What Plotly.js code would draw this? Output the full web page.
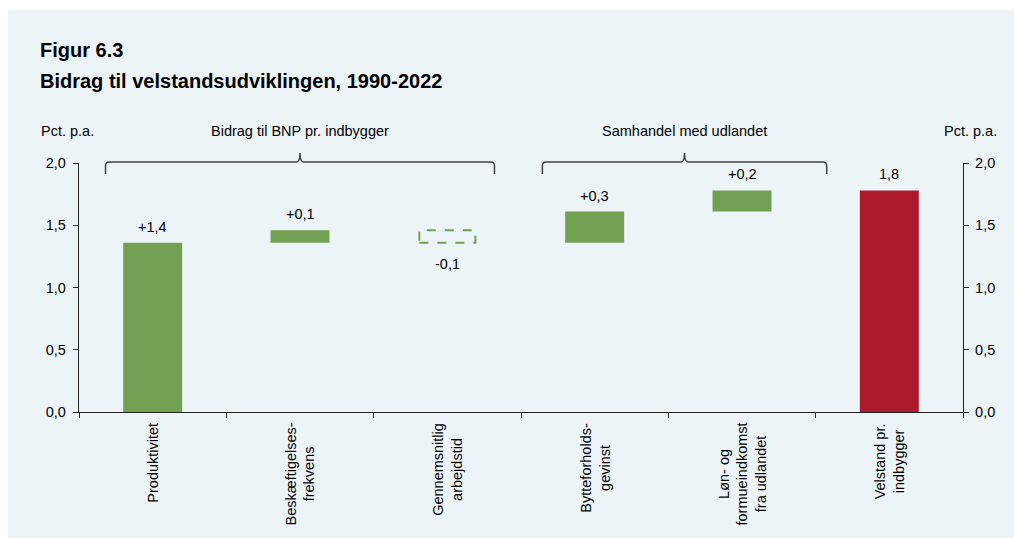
<!DOCTYPE html>
<html>
<head>
<meta charset="utf-8">
<script src="https://cdn.plot.ly/plotly-3.0.1.min.js"></script>
<style>
  html, body { margin: 0; padding: 0; background: #ffffff; overflow: hidden; }
  #chart { position: absolute; left: 8px; top: 10px; width: 1006px; height: 528px; }
</style>
</head>
<body>
<div id="chart"></div>
<script>
// ---- data ----
const categories = [
  "Produktivitet",
  "Beskæftigelses-<br>frekvens",
  "Gennemsnitlig<br>arbejdstid",
  "Bytteforholds-<br>gevinst",
  "Løn- og<br>formueindkomst<br>fra udlandet",
  "Velstand pr.<br>indbygger"
];
const contributions = [1.36, 0.10, -0.10, 0.25, 0.17];
const total = 1.78;
const valueLabels = ["+1,4", "+0,1", "-0,1", "+0,3", "+0,2", "1,8"];
const groupLabels = ["Bidrag til BNP pr. indbygger", "Samhandel med udlandet"];
const titleLines = ["Figur 6.3", "Bidrag til velstandsudviklingen, 1990-2022"];
const unitLabel = "Pct. p.a.";

// ---- styling ----
const GREEN = "#71A052";
const RED = "#AD1A2E";
const BG = "#EDF4F8";
const AXIS = "#222222";
const FONT = "Liberation Sans, Arial, sans-serif";
const FS = 14.5;

// ---- derived waterfall geometry ----
const bases = [], heights = [], colors = [];
let cum = 0;
contributions.forEach(v => {
  bases.push(cum);
  heights.push(v);
  colors.push(v < 0 ? "rgba(0,0,0,0)" : GREEN);
  cum += v;
});
bases.push(0);
heights.push(total);
colors.push(RED);

const BAR_W = 0.4;
const barTrace = {
  type: "bar",
  x: categories,
  y: heights,
  base: bases,
  width: BAR_W,
  marker: { color: colors, line: { width: 0 } },
  hoverinfo: "skip",
  showlegend: false
};
const dummyRight = {
  type: "scatter",
  x: categories,
  y: bases.map((b, i) => b + heights[i]),
  yaxis: "y2",
  mode: "none",
  hoverinfo: "skip",
  showlegend: false
};

const shapes = [];
const annotations = [];

// dashed outlines for negative contributions
heights.forEach((h, i) => {
  if (h < 0) {
    shapes.push({
      type: "rect", xref: "x", yref: "y",
      x0: i - BAR_W / 2 + 0.01, x1: i + BAR_W / 2 - 0.01,
      y0: bases[i] + h, y1: bases[i],
      line: { color: GREEN, width: 2, dash: "dash" },
      fillcolor: "rgba(0,0,0,0)"
    });
  }
});

// value labels
heights.forEach((h, i) => {
  const neg = h < 0;
  annotations.push({
    xref: "x", yref: "y",
    x: i,
    y: bases[i] + h,
    text: valueLabels[i],
    showarrow: false,
    yanchor: neg ? "top" : "bottom",
    yshift: neg ? -11 : 6,
    font: { family: FONT, size: FS, color: "#000" }
  });
});

// category labels (rotated, centred lines)
categories.forEach((c, i) => {
  annotations.push({
    xref: "x", yref: "paper",
    x: i, y: 0,
    text: c,
    textangle: -90,
    align: "center",
    showarrow: false,
    xanchor: "center", yanchor: "top",
    yshift: -9,
    font: { family: FONT, size: FS, color: "#000" }
  });
});

// braces (paper coordinates)
const nCat = categories.length;
const catToPaper = c => (c + 0.5) / nCat;
function bracePath(xc, hw) {
  const yLine = 1.004, yEnd = 0.956, yTop = 1.040, r = 0.004, rv = 0.016;
  const x0 = xc - hw, x1 = xc + hw;
  return `M ${x0},${yEnd} L ${x0},${yLine - rv} Q ${x0},${yLine} ${x0 + r},${yLine} ` +
         `L ${xc - r},${yLine} Q ${xc},${yLine} ${xc},${yTop} ` +
         `Q ${xc},${yLine} ${xc + r},${yLine} L ${x1 - r},${yLine} ` +
         `Q ${x1},${yLine} ${x1},${yLine - rv} L ${x1},${yEnd}`;
}
const braces = [
  { c: 1.0, hw: 1.32, label: groupLabels[0] },
  { c: 3.61, hw: 0.965, label: groupLabels[1] }
];
braces.forEach(b => {
  const xc = catToPaper(b.c);
  const hw = b.hw / nCat;
  shapes.push({
    type: "path", xref: "paper", yref: "paper",
    path: bracePath(xc, hw),
    line: { color: "#404040", width: 1.5 }
  });
  annotations.push({
    xref: "paper", yref: "paper", x: xc, y: 1.128,
    text: b.label, showarrow: false,
    xanchor: "center", yanchor: "middle",
    font: { family: FONT, size: FS, color: "#000" }
  });
});

// unit labels
annotations.push({
  xref: "paper", yref: "paper", x: -0.044, y: 1.128,
  text: unitLabel, showarrow: false, xanchor: "left", yanchor: "middle",
  xshift: -1, font: { family: FONT, size: FS, color: "#000" }
});
annotations.push({
  xref: "paper", yref: "paper", x: 1.008, y: 1.128,
  text: unitLabel, showarrow: false, xanchor: "center", yanchor: "middle",
  font: { family: FONT, size: FS, color: "#000" }
});

// title lines
annotations.push({
  xref: "paper", yref: "paper", x: -0.0445, y: 1.455,
  text: "<b>" + titleLines[0] + "</b>", showarrow: false,
  xanchor: "left", yanchor: "middle", xshift: -2,
  font: { family: FONT, size: 20, color: "#000" }
});
annotations.push({
  xref: "paper", yref: "paper", x: -0.0445, y: 1.33,
  text: "<b>" + titleLines[1] + "</b>", showarrow: false,
  xanchor: "left", yanchor: "middle", xshift: -2,
  font: { family: FONT, size: 20, color: "#000" }
});

const yAxisCommon = {
  range: [0, 2],
  dtick: 0.5,
  tick0: 0,
  tickformat: ".1f",
  ticks: "outside",
  ticklen: 5,
  tickcolor: AXIS,
  showline: true,
  linecolor: AXIS,
  linewidth: 1.2,
  showgrid: false,
  zeroline: false,
  fixedrange: true,
  ticklabelstandoff: 4,
  tickfont: { family: FONT, size: FS, color: "#000" }
};

const layout = {
  width: 1006,
  height: 528,
  paper_bgcolor: BG,
  plot_bgcolor: "rgba(0,0,0,0)",
  margin: { l: 71, r: 51, t: 153, b: 126, pad: 0 },
  separators: ",.",
  showlegend: false,
  xaxis: {
    type: "category",
    tickson: "boundaries",
    ticks: "outside",
    ticklen: 5,
    tickcolor: AXIS,
    showticklabels: false,
    showline: true,
    linecolor: AXIS,
    linewidth: 1.2,
    showgrid: false,
    zeroline: false,
    fixedrange: true,
    range: [-0.5, 5.5]
  },
  yaxis: Object.assign({}, yAxisCommon, { side: "left" }),
  yaxis2: Object.assign({}, yAxisCommon, { side: "right", overlaying: "y", anchor: "x", ticklabelstandoff: 3 }),
  shapes: shapes,
  annotations: annotations
};

Plotly.newPlot("chart", [barTrace, dummyRight], layout, { staticPlot: true, displayModeBar: false });
</script>
</body>
</html>
